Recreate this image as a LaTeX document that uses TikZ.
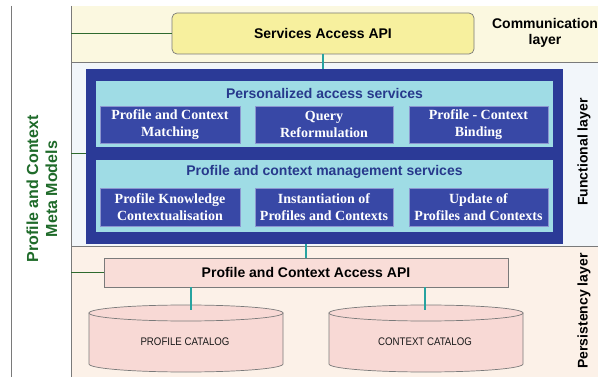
\documentclass[tikz,border=0pt]{standalone}
\usepackage{fontspec}
\setmainfont{Liberation Serif}
\setsansfont{Liberation Sans}
\definecolor{commbg}{HTML}{FBF8E0}
\definecolor{funcbg}{HTML}{F2F6FA}
\definecolor{persbg}{HTML}{FCF1E8}
\definecolor{svcfill}{HTML}{F7F09E}
\definecolor{bigblue}{HTML}{2B3A97}
\definecolor{panelcyan}{HTML}{9FDCE5}
\definecolor{boxblue}{HTML}{3848A6}
\definecolor{boxedge}{HTML}{8C96D0}
\definecolor{navy}{HTML}{27398C}
\definecolor{mmgreen}{HTML}{1F6B2A}
\definecolor{linegreen}{HTML}{2E6A2E}
\definecolor{teal}{HTML}{27A3A0}
\definecolor{pinkfill}{HTML}{F9DDD8}
\definecolor{cylfill}{HTML}{F8D9D5}
\definecolor{edgegrey}{HTML}{7A7A7A}
\begin{document}
\begin{tikzpicture}[x=1pt,y=-1pt,
  band/.style={draw=none,inner sep=0pt,anchor=north west},
  layerlabel/.style={font=\sffamily\bfseries\fontsize{14}{16}\selectfont,align=center,text=black},
  svcbox/.style={draw=edgegrey,fill=svcfill,rounded corners=5pt,inner sep=0pt,line width=0.7pt,
    font=\sffamily\bfseries\fontsize{14}{16}\selectfont},
  apibox/.style={draw=edgegrey,fill=pinkfill,inner sep=0pt,line width=0.7pt,
    font=\sffamily\bfseries\fontsize{14}{16}\selectfont},
  panel/.style={fill=panelcyan,draw=none,inner sep=0pt},
  paneltitle/.style={text=navy,font=\sffamily\bfseries\fontsize{14}{16}\selectfont,inner sep=0pt},
  svbox/.style={fill=boxblue,draw=boxedge,line width=0.6pt,inner sep=0pt,text=white,align=center,
    font=\bfseries\fontsize{14}{16.5}\selectfont},
  greenline/.style={draw=linegreen,line width=0.9pt},
  tealline/.style={draw=teal,line width=1.1pt},
  cyl/.style={draw=edgegrey,fill=cylfill,line width=0.7pt},
  cattext/.style={font=\sffamily\fontsize{11}{12}\selectfont,inner sep=0pt,text=black!90}
]
\useasboundingbox (0,0) rectangle (598,377);
\fill[white] (0,0) rectangle (598,377);
% layer bands
\node[band,fill=commbg,minimum width=527pt,minimum height=56pt] (comm) at (71,6) {};
\node[band,fill=funcbg,minimum width=527pt,minimum height=184pt] (func) at (71,62) {};
\node[band,fill=persbg,minimum width=527pt,minimum height=131pt] (pers) at (71,246) {};
\draw[edgegrey,line width=0.7pt] (func.north west) -- (func.north east);
\draw[edgegrey,line width=0.7pt] (pers.north west) -- (pers.north east);
\draw[edgegrey,line width=0.7pt] (comm.north west) -- (pers.south west);
\coordinate (lefttop) at (11,6);
\coordinate (leftbot) at (11,377);
\draw[edgegrey,line width=0.7pt] (lefttop) -- (leftbot);
% meta models label
\node[rotate=90,text=mmgreen,font=\sffamily\bfseries\fontsize{16}{19}\selectfont,align=center] (meta) at (42,189)
  {Profile and Context\\Meta Models};
% layer labels
\node[layerlabel] (commlbl) at (545,33) {Communication\\layer};
\node[layerlabel,rotate=90] (funclbl) at (584,152) {Functional layer};
\node[layerlabel,rotate=90] (perslbl) at (584,311) {Persistency layer};
% services access api
\node[svcbox,minimum width=302pt,minimum height=41pt] (svc) at (323,33.5) {Services Access API};
% big blue functional box
\node[fill=bigblue,inner sep=0pt,minimum width=477pt,minimum height=175pt] (big) at (324.5,156.5) {};
\node[panel,minimum width=457pt,minimum height=66pt] (p1) at (324.5,114) {};
\node[panel,minimum width=457pt,minimum height=72pt] (p2) at (324.5,196) {};
\node[paneltitle] (t1) at (324.5,93) {Personalized access services};
\node[paneltitle] (t2) at (324.5,172) {Profile and context management services};
\node[svbox,minimum width=140pt,minimum height=37pt] (b11) at (170,124.5) {Profile and Context\\Matching};
\node[svbox,minimum width=138pt,minimum height=37pt] (b12) at (324,124.5) {Query\\Reformulation};
\node[svbox,minimum width=139pt,minimum height=37pt] (b13) at (478.5,124.5) {Profile - Context\\Binding};
\node[svbox,minimum width=140pt,minimum height=38pt] (b21) at (170,207) {Profile Knowledge\\Contextualisation};
\node[svbox,minimum width=138pt,minimum height=38pt] (b22) at (324,207) {Instantiation of\\Profiles and Contexts};
\node[svbox,minimum width=139pt,minimum height=38pt] (b23) at (478.5,207) {Update of\\Profiles and Contexts};
% access api
\node[apibox,minimum width=404pt,minimum height=29pt] (papi) at (306,272.5) {Profile and Context Access API};
% cylinders
\path[cyl] (89,313) -- (89,364) arc[start angle=180,end angle=0,x radius=97,y radius=8] -- (283,313) -- cycle;
\path[cyl] (186,313) ellipse [x radius=97,y radius=8];
\path[cyl] (329,313) -- (329,364) arc[start angle=180,end angle=0,x radius=97,y radius=8] -- (523,313) -- cycle;
\path[cyl] (426,313) ellipse [x radius=97,y radius=8];
\node[cattext] (pcat) at (185,342) {\scalebox{0.88}[1]{PROFILE CATALOG}};
\node[cattext] (ccat) at (425,342) {\scalebox{0.88}[1]{CONTEXT CATALOG}};
\coordinate (pcattop) at (191,310);
\coordinate (ccattop) at (425,310);
% connectors
\draw[greenline] (svc.west) -- (svc.west -| comm.west);
\draw[greenline] (big.west |- 0,153) coordinate (bigw) -- (bigw -| func.west);
\draw[greenline] (papi.west) -- (papi.west -| pers.west);
\draw[tealline] (svc.south) -- (big.north -| svc.south);
\draw[tealline] (big.south -| papi.north) -- (papi.north);
\draw[tealline] (papi.south -| pcattop) -- (pcattop);
\draw[tealline] (papi.south -| ccattop) -- (ccattop);
\end{tikzpicture}
\end{document}
